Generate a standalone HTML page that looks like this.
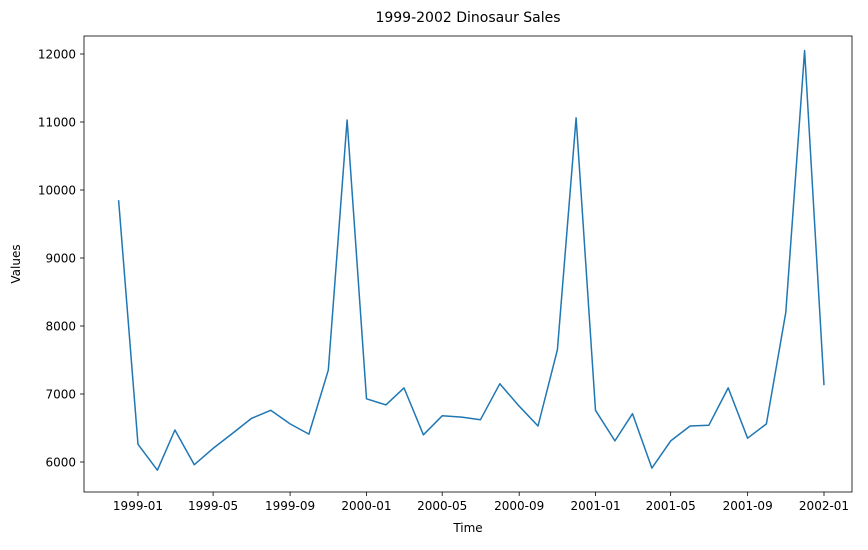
<!DOCTYPE html>
<html><head><meta charset="utf-8"><style>
body{margin:0;background:#fff;}
svg{font-family:"DejaVu Sans","Liberation Sans",sans-serif;}
</style></head><body>
<svg id="chart" width="868" height="545"></svg>
<script>
const months = ["1998-12","1999-01","1999-02","1999-03","1999-04","1999-05","1999-06","1999-07","1999-08","1999-09","1999-10","1999-11","1999-12","2000-01","2000-02","2000-03","2000-04","2000-05","2000-06","2000-07","2000-08","2000-09","2000-10","2000-11","2000-12","2001-01","2001-02","2001-03","2001-04","2001-05","2001-06","2001-07","2001-08","2001-09","2001-10","2001-11","2001-12","2002-01"];
const sales = [9850,6260,5880,6470,5960,6200,6420,6640,6760,6560,6410,7350,11030,6930,6840,7090,6400,6680,6660,6620,7150,6820,6530,7650,11060,6760,6310,6710,5910,6310,6530,6540,7090,6350,6560,8200,12050,7130];
const xTicks = ["1999-01","1999-05","1999-09","2000-01","2000-05","2000-09","2001-01","2001-05","2001-09","2002-01"];
const yTicks = [6000,7000,8000,9000,10000,11000,12000];

const NS="http://www.w3.org/2000/svg";
const svg=document.getElementById('chart');
const L=84,R=852,T=36,B=492;
const d0=Date.UTC(1999,0,1), d1=Date.UTC(2002,0,1);
function dt(s){const p=s.split('-');return Date.UTC(+p[0],+p[1]-1,1);}
function x(s){return 138+(dt(s)-d0)/(d1-d0)*686;}
function y(v){return 462-(v-6000)*0.068;}
function el(t,a,txt){const e=document.createElementNS(NS,t);for(const k in a)e.setAttribute(k,a[k]);if(txt!==undefined)e.textContent=txt;svg.appendChild(e);return e;}

let e=el('text',{x:(L+R)/2,y:22,'text-anchor':'middle','font-size':14},'1999-2002 Dinosaur Sales');



yTicks.forEach(v=>{
  const t=el('line',{x1:L-4,x2:L,y1:y(v),y2:y(v),stroke:'#000','stroke-width':0.8});
  
  
  const l=el('text',{x:L-8,y:y(v)+4.5,'text-anchor':'end','font-size':12},v);
  
  
});
xTicks.forEach(s=>{
  const t=el('line',{x1:x(s),x2:x(s),y1:B,y2:B+4,stroke:'#000','stroke-width':0.8});
  
  
  const l=el('text',{x:x(s),y:B+18,'text-anchor':'middle','font-size':12},s);
  
  
});

const pts=months.map((m,i)=>x(m).toFixed(1)+','+y(sales[i]).toFixed(1)).join(' ');
const line=el('polyline',{points:pts,fill:'none',stroke:'#1f77b4','stroke-width':1.5,'stroke-linejoin':'round'});



const frame=el('rect',{x:L,y:T,width:R-L,height:B-T,fill:'none',stroke:'#000','stroke-width':0.8});



const xt=el('text',{x:(L+R)/2,y:532,'text-anchor':'middle','font-size':12},'Time');


const yt=el('text',{x:20,y:(T+B)/2,'text-anchor':'middle','font-size':12,transform:'rotate(-90 20 '+((T+B)/2)+')'},'Values');


</script>
</body></html>
